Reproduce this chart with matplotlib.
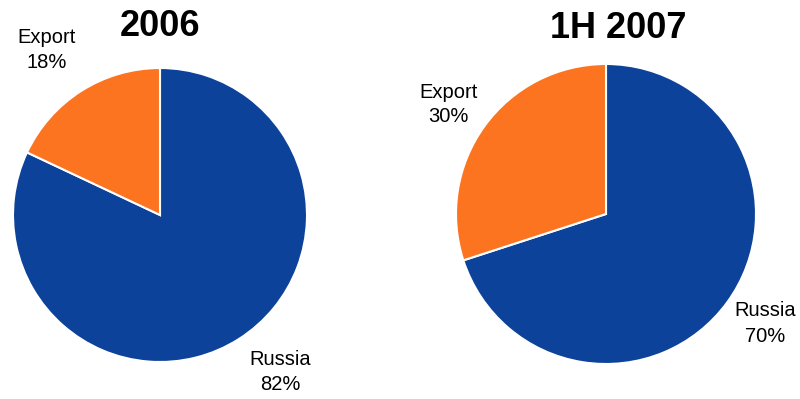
import matplotlib.pyplot as plt

plt.rcParams['font.family'] = ['Liberation Sans', 'DejaVu Sans']

# Data
titles = ["2006", "1H 2007"]
categories = ["Russia", "Export"]
shares = [[82, 18], [70, 30]]
colors = ["#0C4299", "#FC7420"]

W, H = 800, 399
fig = plt.figure(figsize=(W / 100, H / 100), dpi=100)

# pie centre (px from left, px from top), radius px
pies = [(160, 215, 147), (606, 214, 150)]
# label positions in units of radius, relative to centre
label_pos = [
    {"Russia": (0.82, -1.07), "Export": (-0.77, 1.12)},
    {"Russia": (1.06, -0.73), "Export": (-1.05, 0.73)},
]
title_pos = [(160, 26), (618, 28)]

for i, (cx, cy, r) in enumerate(pies):
    ax = fig.add_axes([(cx - r) / W, (H - cy - r) / H, 2 * r / W, 2 * r / H])
    ax.pie(shares[i], colors=colors, startangle=90, counterclock=False,
           wedgeprops=dict(edgecolor="white", linewidth=1.5))
    ax.set_aspect("auto")
    ax.set_xlim(-1, 1)
    ax.set_ylim(-1, 1)
    ax.axis("off")
    for cat, val in zip(categories, shares[i]):
        x, y = label_pos[i][cat]
        ax.text(x, y, f"{cat}\n{val}%", ha="center", va="center",
                fontsize=14.5, linespacing=1.4, clip_on=False)
    tx, ty = title_pos[i]
    fig.text(tx / W, 1 - ty / H, titles[i], ha="center", va="center",
             fontsize=26, fontweight="bold")

fig.savefig("out.png", dpi=100)
